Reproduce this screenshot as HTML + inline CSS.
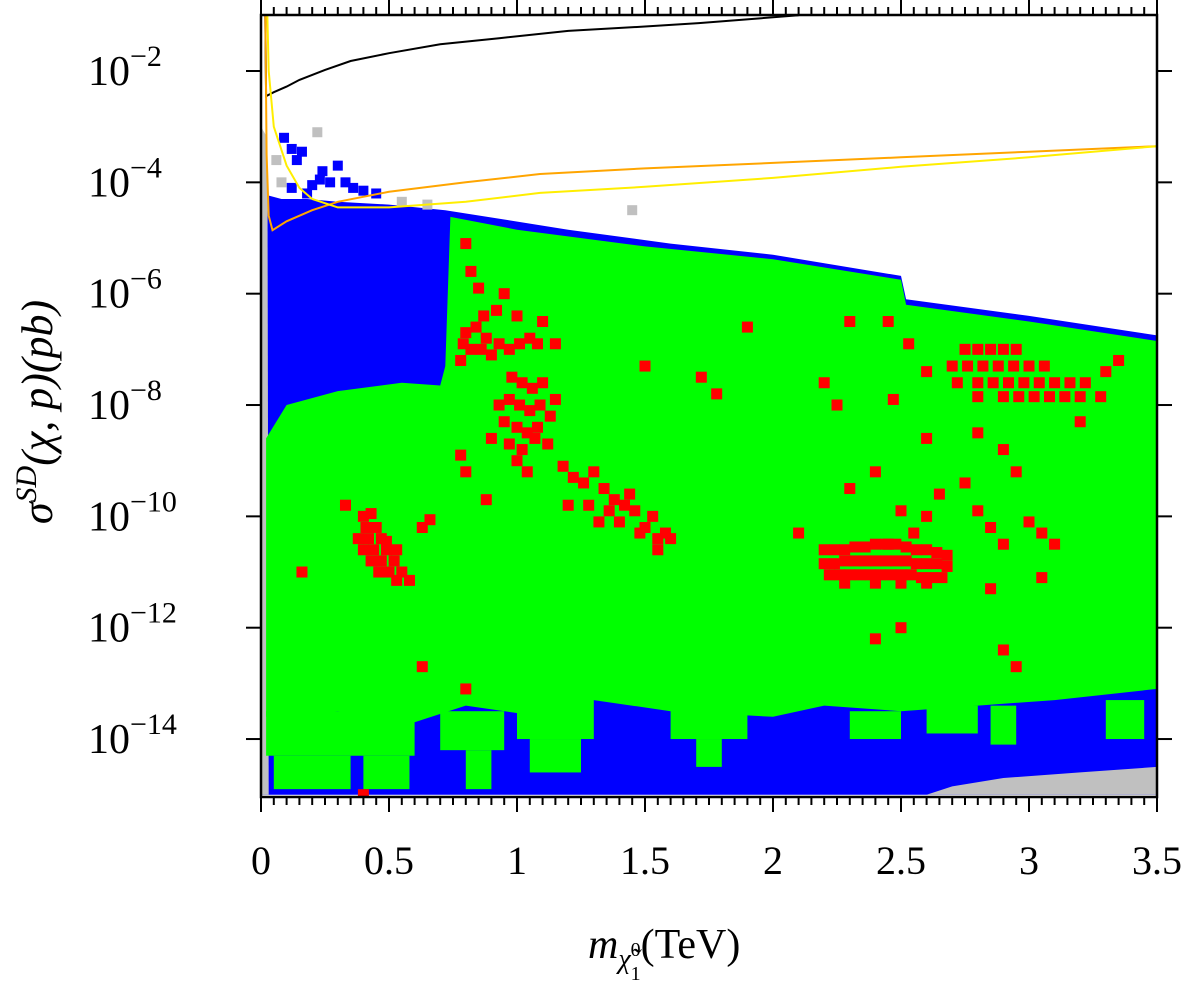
<!DOCTYPE html>
<html><head><meta charset="utf-8"><style>
html,body{margin:0;padding:0;background:#fff;}
svg{display:block;font-family:"Liberation Serif",serif;}
</style></head><body>
<svg id="chart" width="1187" height="985" viewBox="0 0 1187 985" xmlns="http://www.w3.org/2000/svg">
<defs><clipPath id="plotclip"><rect x="261" y="15" width="896" height="782"/></clipPath></defs>
<g id="regions" clip-path="url(#plotclip)"></g>
<g id="reds" clip-path="url(#plotclip)"></g>
<g id="lines" clip-path="url(#plotclip)"></g>
<g id="axes"></g>
<text x="588" y="958" font-size="42" font-style="italic">m<tspan font-size="28" dy="10">χ̃</tspan><tspan font-size="20" dy="-12" font-style="normal">0</tspan><tspan font-size="20" dx="-10" dy="24" font-style="normal">1</tspan><tspan dy="-22" font-style="normal" font-size="42">(TeV)</tspan></text>
<text transform="translate(52,412) rotate(-90)" text-anchor="middle" font-size="44" font-style="italic">σ<tspan font-size="30" dy="-16">SD</tspan><tspan dy="16">(χ, p)(pb)</tspan></text>
</svg>
<script>
// axis domain
const xTicks=[0,0.5,1,1.5,2,2.5,3,3.5];
const xTickLabels=["0","0.5","1","1.5","2","2.5","3","3.5"];
const yTicks=[-2,-4,-6,-8,-10,-12,-14];
const yTickLabels=["-2","-4","-6","-8","-10","-12","-14"];
// region boundaries [mass TeV, log10 sigma]
const grayLeft=[[0,-3.0],[0.025,-3.2],[0.03,-15],[0,-15]];
const grayBottomRight=[[2.6,-15],[2.7,-14.85],[2.9,-14.7],[3.2,-14.6],[3.5,-14.5],[3.5,-15]];
const blueMain=[[0,-4.2],[0.08,-4.3],[0.18,-4.3],[0.3,-4.35],[0.5,-4.4],[0.72,-4.5],[1.2,-4.85],[1.6,-5.1],[2.0,-5.3],[2.5,-5.68],[2.52,-6.1],[3.0,-6.4],[3.5,-6.75],[3.5,-15],[0,-15]];
const greenMain=[[0.74,-4.62],[1.0,-4.85],[1.5,-5.15],[2.0,-5.38],[2.5,-5.75],[2.52,-6.2],[3.0,-6.5],[3.5,-6.85],[3.5,-13.1],[3.1,-13.3],[2.8,-13.4],[2.5,-13.5],[2.2,-13.4],[2.0,-13.6],[1.6,-13.5],[1.3,-13.3],[1.1,-13.6],[0.8,-13.4],[0.6,-13.7],[0.3,-13.5],[0.02,-13.6],[0.02,-8.6],[0.1,-8.0],[0.3,-7.75],[0.55,-7.6],[0.7,-7.65],[0.72,-7.3]];
// green patches in the bottom band [m0,m1,log0,log1]
const greenPatches=[[0.02,0.6,-13.5,-14.3],[0.05,0.35,-14.3,-14.9],[0.4,0.58,-14.3,-14.9],[0.7,0.95,-13.5,-14.2],[0.8,0.9,-14.2,-14.9],[1.0,1.3,-13.3,-14.0],[1.05,1.25,-14.0,-14.6],[1.6,1.9,-13.4,-14.0],[1.7,1.8,-14.0,-14.5],[2.3,2.5,-13.5,-14.0],[2.6,2.8,-13.4,-13.9],[2.85,2.95,-13.4,-14.1],[3.3,3.45,-13.3,-14.0]];
// red points [mass, log10 sigma]
const redPoints=[
[0.40,-10.0],[0.43,-9.95],[0.41,-10.2],[0.45,-10.2],[0.38,-10.4],[0.42,-10.4],[0.47,-10.4],[0.40,-10.6],[0.44,-10.6],[0.49,-10.6],[0.43,-10.8],[0.47,-10.8],[0.52,-10.8],[0.46,-11.0],[0.50,-11.0],[0.55,-11.0],[0.53,-11.15],[0.58,-11.15],[0.49,-10.45],[0.53,-10.6],[0.16,-11.0],[0.33,-9.8],[0.66,-10.06],[0.63,-10.2],
[0.80,-6.7],[0.84,-6.6],[0.88,-6.8],[0.82,-7.0],[0.86,-7.0],[0.90,-7.1],[0.78,-7.2],[0.93,-6.9],[0.97,-7.0],[1.01,-6.9],[1.05,-6.8],[1.08,-6.9],[0.87,-6.4],[0.79,-6.9],
[0.80,-5.1],[0.82,-5.6],[0.85,-5.9],[0.95,-6.0],[1.0,-6.4],[1.1,-6.5],[1.15,-6.9],[0.92,-6.3],
[0.98,-7.5],[1.02,-7.6],[1.06,-7.7],[1.10,-7.6],[0.97,-7.9],[1.01,-8.0],[1.05,-8.1],[1.09,-8.0],[1.13,-8.2],[0.95,-8.3],[1.00,-8.4],[1.04,-8.5],[1.08,-8.4],[0.97,-8.7],[1.02,-8.8],[1.07,-8.6],[1.12,-8.7],[0.93,-8.0],[1.15,-7.9],[0.9,-8.6],[1.0,-9.0],[1.04,-9.2],
[1.18,-9.1],[1.22,-9.3],[1.26,-9.4],[1.30,-9.2],[1.34,-9.5],[1.38,-9.7],[1.42,-9.8],[1.46,-9.9],[1.40,-10.1],[1.50,-10.2],[1.55,-10.4],[1.48,-10.3],[1.36,-9.9],[1.44,-9.6],[1.53,-10.0],[1.28,-9.8],[1.20,-9.8],[1.58,-10.3],[1.60,-10.4],[1.32,-10.1],[0.78,-8.9],[0.80,-9.2],[0.88,-9.7],
[2.20,-10.6],[2.24,-10.6],[2.28,-10.6],[2.32,-10.55],[2.36,-10.55],[2.40,-10.5],[2.44,-10.5],[2.48,-10.5],[2.52,-10.55],[2.56,-10.6],[2.60,-10.6],[2.64,-10.65],[2.68,-10.7],
[2.20,-10.85],[2.24,-10.85],[2.28,-10.8],[2.32,-10.8],[2.36,-10.8],[2.40,-10.8],[2.44,-10.8],[2.48,-10.8],[2.52,-10.8],[2.56,-10.85],[2.60,-10.85],[2.64,-10.85],[2.68,-10.9],
[2.22,-11.05],[2.26,-11.05],[2.30,-11.05],[2.34,-11.05],[2.38,-11.05],[2.42,-11.05],[2.46,-11.05],[2.50,-11.05],[2.54,-11.05],[2.58,-11.1],[2.62,-11.1],[2.66,-11.1],
[2.28,-11.2],[2.40,-11.2],[2.50,-11.2],[2.60,-11.2],
[2.75,-7.0],[2.80,-7.0],[2.85,-7.0],[2.90,-7.0],[2.95,-7.0],[2.70,-7.3],[2.76,-7.3],[2.82,-7.3],[2.88,-7.3],[2.94,-7.3],[3.00,-7.3],[3.06,-7.3],
[2.72,-7.6],[2.80,-7.6],[2.86,-7.6],[2.92,-7.6],[2.98,-7.6],[3.04,-7.6],[3.10,-7.6],[3.16,-7.6],[3.22,-7.6],
[2.80,-7.85],[2.90,-7.85],[2.96,-7.85],[3.02,-7.85],[3.08,-7.85],[3.14,-7.85],[3.20,-7.85],[3.28,-7.85],
[2.3,-6.5],[2.2,-7.6],[2.25,-8.0],[2.3,-9.5],[2.4,-9.2],[2.5,-9.9],[2.55,-10.3],[2.6,-10.0],[2.65,-9.6],[2.75,-9.4],[2.8,-9.9],[2.85,-10.2],[2.9,-10.5],[2.95,-9.2],[3.0,-10.1],[3.05,-10.3],[3.1,-10.5],[3.05,-11.1],[2.85,-11.3],[2.9,-12.4],[2.95,-12.7],[2.5,-12.0],[2.4,-12.2],[1.5,-7.3],[1.9,-6.6],[1.72,-7.5],[1.78,-7.8],[2.45,-6.5],[2.53,-6.9],[2.6,-7.4],[2.47,-7.9],[2.1,-10.3],[0.8,-13.1],[0.63,-12.7],[0.4,-15.0],[3.2,-8.3],[3.3,-7.4],[3.35,-7.2],[2.45,-10.5],[2.8,-8.5],[2.9,-8.8],[2.6,-8.6],[1.55,-10.6]
];
// scattered blue/gray points near top-left
const bluePoints=[[0.09,-3.2],[0.12,-3.4],[0.16,-3.45],[0.14,-3.6],[0.24,-3.8],[0.3,-3.7],[0.23,-3.95],[0.2,-4.05],[0.27,-4.0],[0.33,-4.0],[0.36,-4.1],[0.12,-4.1],[0.05,-4.6],[0.18,-4.2],[0.4,-4.15],[0.45,-4.2]];
const grayPoints=[[0.22,-3.1],[0.06,-3.6],[0.08,-4.0],[0.55,-4.35],[1.45,-4.5],[0.65,-4.4]];
// limit curves
const blackCurve=[[0.015,-0.2],[0.02,-2.45],[0.05,-2.38],[0.1,-2.28],[0.15,-2.16],[0.25,-1.98],[0.35,-1.82],[0.5,-1.68],[0.7,-1.52],[0.93,-1.41],[1.2,-1.28],[1.5,-1.2],[1.71,-1.14],[2.1,-1.0]];
const orangeCurve=[[0.015,-0.1],[0.018,-1.5],[0.022,-3.5],[0.03,-4.6],[0.045,-4.86],[0.1,-4.7],[0.2,-4.5],[0.3,-4.35],[0.5,-4.17],[0.8,-4.0],[1.09,-3.85],[1.5,-3.75],[2.0,-3.65],[2.5,-3.55],[3.0,-3.45],[3.5,-3.35]];
const yellowCurve=[[0.02,-0.1],[0.03,-2.0],[0.05,-3.0],[0.1,-3.7],[0.15,-4.1],[0.2,-4.3],[0.3,-4.45],[0.5,-4.45],[0.8,-4.35],[1.09,-4.19],[1.5,-4.08],[2.0,-3.92],[2.5,-3.72],[3.0,-3.55],[3.5,-3.35]];

const X0=261,X1=1157,Y0=797,YT=15;
function sx(m){return X0+m/3.5*(X1-X0);}
function sy(l){return 71+(-2-l)*55.67;}
const NS="http://www.w3.org/2000/svg";
function el(tag,attrs,parent){const e=document.createElementNS(NS,tag);for(const k in attrs)e.setAttribute(k,attrs[k]);parent.appendChild(e);return e;}
function pts(a){return a.map(p=>sx(p[0]).toFixed(1)+","+sy(p[1]).toFixed(1)).join(" ");}
const R=document.getElementById('regions');
let p;
p=el('polygon',{points:pts(blueMain),fill:'#0000ff'},R);


p=el('polygon',{points:pts(grayLeft),fill:'#c0c0c0'},R);


p=el('polygon',{points:pts(grayBottomRight),fill:'#c0c0c0'},R);


p=el('polygon',{points:pts(greenMain),fill:'#00ff00'},R);


greenPatches.forEach(g=>{
  const r=el('rect',{x:sx(g[0]),y:sy(g[2]),width:sx(g[1])-sx(g[0]),height:sy(g[3])-sy(g[2]),fill:'#00ff00'},R);
  
  
});
grayPoints.forEach(q=>{
  const r=el('rect',{x:sx(q[0])-5,y:sy(q[1])-5,width:10,height:10,fill:'#c0c0c0'},R);
  
  
});
bluePoints.forEach(q=>{
  const r=el('rect',{x:sx(q[0])-5,y:sy(q[1])-5,width:10,height:10,fill:'#0000ff'},R);
  
  
});
const RD=document.getElementById('reds');
redPoints.forEach(q=>{
  const r=el('rect',{x:sx(q[0])-5.5,y:sy(q[1])-5.5,width:11,height:11,fill:'#ff0000'},RD);
  
  
});
const L=document.getElementById('lines');
[[blackCurve,'#000','black-limit-curve'],[orangeCurve,'#ffa500','orange-limit-curve'],[yellowCurve,'#ffee00','yellow-limit-curve']].forEach(c=>{
  const l=el('polyline',{points:pts(c[0]),fill:'none',stroke:c[1],'stroke-width':2},L);
  
  
});
const A=document.getElementById('axes');
const fr=el('rect',{x:X0,y:YT,width:X1-X0,height:Y0-YT,fill:'none',stroke:'#000','stroke-width':2.5},A);


for(let i=0;i<=70;i++){
  const x=X0+i*(X1-X0)/70;const major=i%10===0;const len=major?15:8;
  el('line',{x1:x,y1:Y0,x2:x,y2:Y0+len,stroke:'#000','stroke-width':2},A);
  el('line',{x1:x,y1:YT,x2:x,y2:YT-len,stroke:'#000','stroke-width':2},A);
}
xTicks.forEach((v,i)=>{
  const t=el('text',{x:sx(v),y:874,'text-anchor':'middle','font-size':40},A);
  t.textContent=xTickLabels[i];
  
  
});
yTicks.forEach((v,i)=>{
  const y=sy(v);
  el('line',{x1:X0-15,y1:y,x2:X0,y2:y,stroke:'#000','stroke-width':2},A);
  el('line',{x1:X1,y1:y,x2:X1+15,y2:y,stroke:'#000','stroke-width':2},A);
  const t=el('text',{x:88,y:y+14,'font-size':42},A);
  t.textContent='10';
  const s=el('tspan',{'font-size':30,dy:-19},t);
  s.textContent=yTickLabels[i].replace('-','−');
  
  
});
</script>
</body></html>
